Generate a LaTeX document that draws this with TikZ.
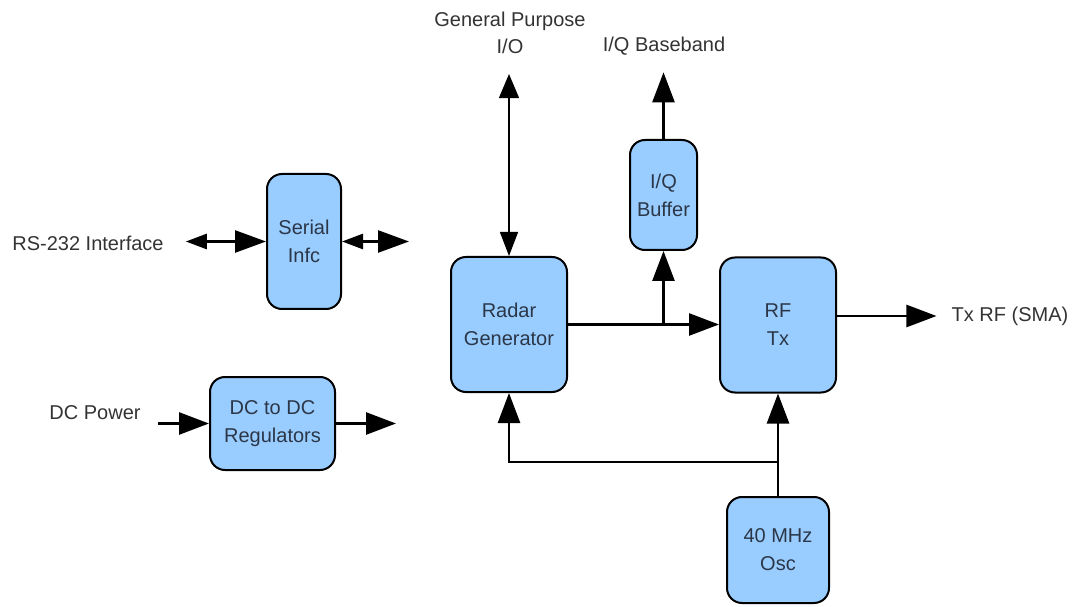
\documentclass[tikz,border=0pt]{standalone}
\usepackage{fontspec}
\setmainfont{Liberation Sans}
\usetikzlibrary{positioning,arrows.meta,calc}
\definecolor{B1}{RGB}{153,204,255}
\definecolor{T1}{RGB}{43,55,72}
\definecolor{T2}{RGB}{51,51,51}

\begin{document}
\begin{tikzpicture}[
  x=1pt, y=1pt,
  blk/.style = {
    rectangle, rounded corners=15pt,
    draw=black, fill=B1, line width=2pt,
    align=center, text=T1,
    font=\fontsize{20}{28}\selectfont
  },
  lbl/.style = {
    align=center, text=T2, inner sep=0pt,
    font=\fontsize{20}{27}\selectfont
  },
  ma/.style  = {-{Triangle[length=30pt,width=22pt]}, line width=2.6pt},
  da/.style  = {{Triangle[length=21pt,width=15pt]}-{Triangle[length=31pt,width=22pt]}, line width=2.6pt},
  ta/.style  = {{Triangle[length=24pt,width=20pt]}-{Triangle[length=24pt,width=18pt]}, line width=1.4pt}
]
\useasboundingbox (0,0) rectangle (1074,606);

%% ---------- Blocks ----------
\node[blk, minimum width=74pt,  minimum height=135pt] (serial) at (304,364.5) {Serial\\Infc};
\node[blk, minimum width=125pt, minimum height=93pt]  (dcdc)   at (272.5,182.5) {DC to DC\\Regulators};
\node[blk, minimum width=116pt, minimum height=135pt] (radar)  at (509,281.5) {Radar\\Generator};
\node[blk, minimum width=67pt,  minimum height=110pt] (iqbuf)  at (663.5,411) {I/Q\\Buffer};
\node[blk, minimum width=116pt, minimum height=135pt] (rftx)   at (778,281) {RF\\Tx};
\node[blk, minimum width=102pt, minimum height=106pt] (osc)    at (778,56) {40 MHz\\Osc};

%% ---------- Labels ----------
\node[lbl] (rs232)   at (88,363)   {RS-232 Interface};
\node[lbl] (dcpower) at (95,193)   {DC Power};
\node[lbl] (gpio)    at (510,573)  {General Purpose\\I/O};
\node[lbl] (iqbase)  at (664,560)  {I/Q Baseband};
\node[lbl] (txrf)    at (1010,290) {Tx RF (SMA)};

\coordinate (serout) at (409,364.5);
\coordinate (dcout)  at (396,182.5);
\coordinate (jn)     at (778,144);

%% ---------- Arrows ----------
\draw[da, shorten <=22pt] (rs232.east |- serial.west) -- (serial.west);
\draw[da] (serial.east) -- (serout);

\draw[ma, shorten <=17pt] (dcdc.west -| dcpower.east) -- (dcdc.west);
\draw[ma] (dcdc.east) -- (dcout);

\draw[ta, shorten <=20pt] (gpio.south -| radar.north) -- (radar.north);
\draw[ma, shorten >=17pt] (iqbuf.north) -- (iqbuf.north |- iqbase.south);

% radar -> rf tx, with tap to buffer
\draw[ma] (radar.east) -- (radar.east -| rftx.west);
\draw[ma] (radar.east -| iqbuf.south) -- (iqbuf.south);

\draw[ma, shorten >=15pt] (rftx.east |- txrf.west) -- (txrf.west);

% oscillator feeds both
\draw[ma] (osc.north) -- (rftx.south);
\draw[ma] (jn) -| (radar.south);

\end{tikzpicture}
\end{document}
